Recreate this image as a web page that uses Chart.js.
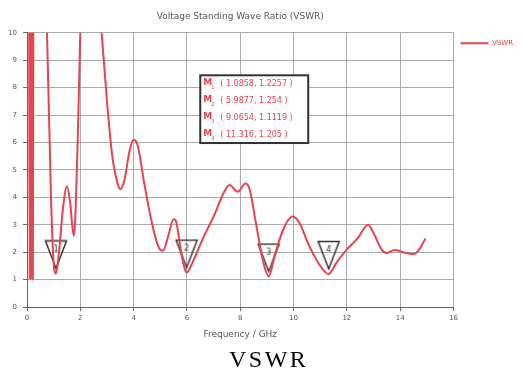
<!DOCTYPE html>
<html>
<head>
<meta charset="utf-8">
<script src="https://cdn.jsdelivr.net/npm/chart.js@4"></script>
<style>
  html, body { margin: 0; padding: 0; background: #fff; }
  #wrap { position: relative; width: 523px; height: 369px; }
  #caption {
    position: absolute; left: 229px; top: 347px;
    font: 24px "Liberation Serif", "Times New Roman", serif;
    line-height: 24px; letter-spacing: 2.5px; color: #000;
  }
</style>
</head>
<body>
<div id="wrap">
  <canvas id="myChart" width="523" height="369"></canvas>
  <div id="caption">VSWR</div>
</div>
<script>
// values
const frequencies = [
  0.08, 0.10, 0.12, 0.14, 0.16, 0.18, 0.20, 0.22, 0.24, 0.30, 0.50, 0.70,
  0.75, 0.90, 1.00, 1.0858, 1.20, 1.35, 1.50, 1.62, 1.75, 1.80, 1.90, 2.00,
  2.10, 2.40, 2.60, 2.80, 3.00, 3.20, 3.40, 3.50, 3.65, 3.85, 4.00, 4.15,
  4.40, 4.70, 4.95, 5.10, 5.30, 5.50, 5.60, 5.75, 5.90, 5.9877, 6.20, 6.60,
  7.00, 7.40, 7.60, 7.90, 8.20, 8.35, 8.60, 8.85, 9.0654, 9.30, 9.60, 9.95,
  10.20, 10.60, 11.00, 11.316, 11.60, 12.00, 12.40, 12.80, 13.00, 13.30, 13.50, 13.80,
  14.10, 14.50, 14.75, 14.95
];
const vswrValues = [
  12, 1.0, 12, 1.0, 12, 1.0, 12, 1.0, 12, 14, 16, 11,
  10, 4.0, 1.6, 1.2257, 2.0, 3.6, 4.4, 3.8, 2.6, 3.0, 6.0, 10,
  13, 14, 12, 10, 7.5, 5.5, 4.5, 4.3, 4.6, 5.7, 6.1, 5.9,
  4.5, 3.0, 2.15, 2.05, 2.6, 3.2, 3.1, 2.2, 1.45, 1.254, 1.6, 2.5,
  3.3, 4.2, 4.45, 4.2, 4.5, 4.3, 3.0, 1.7, 1.1119, 1.9, 2.8, 3.3,
  3.1, 2.2, 1.5, 1.205, 1.6, 2.1, 2.5, 3.0, 2.7, 2.1, 1.97, 2.08,
  2.0, 1.93, 2.15, 2.5
];
const markerNames = ['1', '2', '3', '4'];
const markerFreqs = [1.0858, 5.9877, 9.0654, 11.316];
const markerVswr = [1.2257, 1.254, 1.1119, 1.205];
const xTickValues = [0, 2, 4, 6, 8, 10, 12, 14, 16];
const yTickValues = [0, 1, 2, 3, 4, 5, 6, 7, 8, 9, 10];

const RED = '#e8434f';
const AXIS_GREY = '#555';
const FONT = 'DejaVu Sans';

/**
 * Inverted triangle marker, tip a little above the image centre
 * @param {string} label
 * @returns {HTMLCanvasElement}
 */
function makeMarkerImage(label) {
  const w = 24, triH = 29, gap = 5;
  const c = document.createElement('canvas');
  c.width = w;
  c.height = 2 * (triH + gap);
  const g = c.getContext('2d');
  g.beginPath();
  g.moveTo(1.5, 1.5);
  g.lineTo(w - 1.5, 1.5);
  g.lineTo(w / 2, triH);
  g.closePath();
  g.strokeStyle = '#333';
  g.lineWidth = 1.5;
  g.stroke();
  g.fillStyle = '#333';
  g.font = `8px "${FONT}"`;
  g.textAlign = 'center';
  g.textBaseline = 'middle';
  g.fillText(label, w / 2, 10);
  return c;
}

// box listing the marker readouts
const markerBox = {
  id: 'markerBox',
  afterDatasetsDraw(chart) {
    const { ctx, scales: { x, y } } = chart;
    const left = x.getPixelForValue(6.5);
    const right = x.getPixelForValue(10.55);
    const top = y.getPixelForValue(8.45);
    const bottom = y.getPixelForValue(5.98);
    ctx.save();
    ctx.fillStyle = '#fff';
    ctx.fillRect(left, top, right - left, bottom - top);
    ctx.strokeStyle = '#333';
    ctx.lineWidth = 2;
    ctx.strokeRect(left, top, right - left, bottom - top);
    const step = (bottom - top) / markerNames.length;
    ctx.fillStyle = RED;
    ctx.textBaseline = 'middle';
    markerNames.forEach((name, i) => {
      const cy = top + step * (i + 0.5);
      ctx.font = `bold 9px "${FONT}"`;
      ctx.fillText('M', left + 3, cy - 1);
      ctx.font = `5px "${FONT}"`;
      ctx.fillText(name, left + 11, cy + 4);
      ctx.font = `8px "${FONT}"`;
      ctx.fillText(`( ${markerFreqs[i]}, ${markerVswr[i]} )`, left + 20, cy);
    });
    ctx.restore();
  }
};

function renderChart() {
  const ctx = document.getElementById('myChart');
  new Chart(ctx, {
    type: 'line',
    data: {
      datasets: [{
        label: 'VSWR',
        data: frequencies.map((f, i) => ({ x: f, y: vswrValues[i] })),
        borderColor: RED,
        backgroundColor: RED,
        borderWidth: 2,
        pointRadius: 0,
        cubicInterpolationMode: 'monotone'
      }, {
        label: 'markers',
        data: markerFreqs.map((f, i) => ({ x: f, y: markerVswr[i] })),
        showLine: false,
        pointStyle: markerNames.map(makeMarkerImage),
        pointRadius: 10
      }]
    },
    options: {
      responsive: false,
      animation: false,
      layout: { padding: { left: 0, right: 0, top: 0, bottom: 28 } },
      scales: {
        x: {
          type: 'linear', min: 0, max: 16,
          afterBuildTicks: (axis) => { axis.ticks = xTickValues.map((v) => ({ value: v })); },
          afterFit: (scale) => { scale.height = 34; },
          grid: { color: '#aaa', tickLength: 4, tickColor: '#666' },
          border: { color: '#666' },
          ticks: { color: AXIS_GREY, font: { family: FONT, size: 7 }, padding: 3, maxRotation: 0 },
          title: { display: true, text: 'Frequency / GHz', color: AXIS_GREY, font: { family: FONT, size: 9 }, padding: { top: 4, bottom: 1 } }
        },
        y: {
          min: 0, max: 10,
          afterBuildTicks: (axis) => { axis.ticks = yTickValues.map((v) => ({ value: v })); },
          afterFit: (scale) => { scale.width = 27; },
          grid: { color: '#aaa', tickLength: 4, tickColor: '#666' },
          border: { color: '#666' },
          ticks: { color: AXIS_GREY, font: { family: FONT, size: 7 }, padding: 6 }
        }
      },
      plugins: {
        title: {
          display: true, fullSize: false,
          text: 'Voltage Standing Wave Ratio (VSWR)',
          color: AXIS_GREY, font: { family: FONT, size: 9, weight: 'normal' },
          padding: { top: 11, bottom: 11 }
        },
        legend: {
          position: 'right', align: 'start', fullSize: false,
          labels: {
            filter: (item) => item.datasetIndex === 0,
            usePointStyle: true, pointStyle: 'line', pointStyleWidth: 28,
            color: RED, font: { family: FONT, size: 7 }, padding: 7
          }
        },
        tooltip: { enabled: false }
      }
    },
    plugins: [markerBox]
  });
}

renderChart();
</script>
</body>
</html>
